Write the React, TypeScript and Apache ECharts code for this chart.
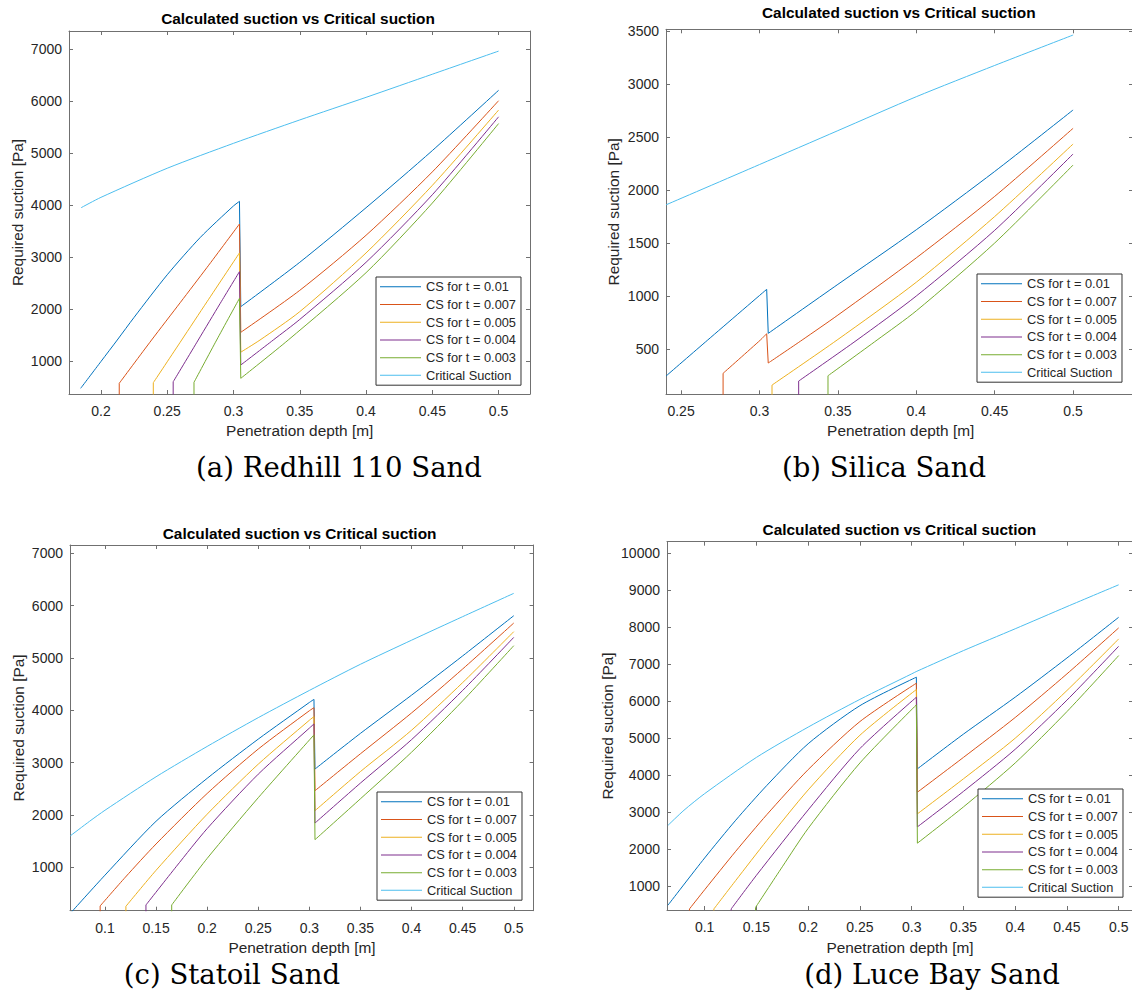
import React, { useEffect, useRef } from 'react';
import * as echarts from 'echarts';

type Pt = [number, number];

// ---------- texts ----------
const LEGEND_NAMES = ['CS for t = 0.01', 'CS for t = 0.007', 'CS for t = 0.005', 'CS for t = 0.004', 'CS for t = 0.003', 'Critical Suction'];
const SERIES_COLORS = ['#0072BD', '#D95319', '#EDB120', '#7E2F8E', '#77AC30', '#4DBEEE'];
const TITLE = 'Calculated suction vs Critical suction';
const X_NAME = 'Penetration depth [m]';
const Y_NAME = 'Required suction [Pa]';
const CAPTIONS = ['(a) Redhill 110 Sand', '(b) Silica Sand', '(c) Statoil Sand', '(d) Luce Bay Sand'];

// ---------- axis ranges / tick steps ----------
const X_RANGES: Pt[] = [[0.1759, 0.5237], [0.2404, 0.5382], [0.0658, 0.5194], [0.0636, 0.5138]];
const Y_RANGES: Pt[] = [[365, 7352], [73, 3516], [171, 7159], [351, 10316]];
const X_STEPS = [0.05, 0.05, 0.05, 0.05];
const Y_STEPS = [1000, 500, 1000, 1000];

// ---------- (a) Redhill 110 Sand ----------
const redhill_t010: Pt[] = [[0.1847, 474], [0.2, 990], [0.2123, 1404], [0.225, 1840], [0.25, 2660], [0.275, 3380], [0.3, 3985], [0.3045, 4073], [0.3055, 2046], [0.35, 2900], [0.4, 3950], [0.45, 5050], [0.5, 6210]];
const redhill_t007: Pt[] = [[0.2138, 0], [0.2138, 571], [0.2382, 1404], [0.26, 2130], [0.28, 2800], [0.3045, 3637], [0.3055, 1552], [0.35, 2360], [0.4, 3420], [0.45, 4640], [0.5, 6010]];
const redhill_t005: Pt[] = [[0.2395, 0], [0.2395, 582], [0.2609, 1404], [0.28, 2140], [0.3045, 3080], [0.3055, 1170], [0.32, 1404], [0.35, 1950], [0.4, 3080], [0.45, 4380], [0.5, 5830]];
const redhill_t004: Pt[] = [[0.2545, 0], [0.2545, 600], [0.2734, 1404], [0.29, 2110], [0.3045, 2720], [0.3055, 923], [0.33, 1404], [0.35, 1800], [0.4, 2900], [0.45, 4200], [0.5, 5700]];
const redhill_t003: Pt[] = [[0.2702, 0], [0.2702, 590], [0.2873, 1404], [0.3045, 2206], [0.3055, 667], [0.3413, 1404], [0.4, 2700], [0.45, 4040], [0.5, 5570]];
const redhill_crit: Pt[] = [[0.185, 3950], [0.2, 4150], [0.25, 4710], [0.3, 5190], [0.35, 5640], [0.4, 6075], [0.45, 6520], [0.5, 6965]];

// ---------- (b) Silica Sand ----------
const silica_t010: Pt[] = [[0.2404, 245], [0.267, 585], [0.3046, 1063], [0.3056, 648], [0.35, 1110], [0.4, 1625], [0.45, 2175], [0.5, 2755]];
const silica_t007: Pt[] = [[0.2768, 0], [0.2768, 271], [0.3006, 585], [0.3046, 645], [0.3056, 368], [0.3272, 585], [0.35, 820], [0.4, 1360], [0.45, 1940], [0.5, 2582]];
const silica_t005: Pt[] = [[0.308, 0], [0.308, 160], [0.3495, 585], [0.4, 1130], [0.45, 1750], [0.5, 2434]];
const silica_t004: Pt[] = [[0.325, 0], [0.325, 198], [0.3622, 585], [0.4, 1000], [0.45, 1620], [0.5, 2340]];
const silica_t003: Pt[] = [[0.3437, 0], [0.3437, 248], [0.375, 585], [0.4, 860], [0.45, 1500], [0.5, 2236]];
const silica_crit: Pt[] = [[0.2404, 1860], [0.3, 2240], [0.35, 2560], [0.4, 2880], [0.45, 3175], [0.5, 3462]];

// ---------- (c) Statoil Sand ----------
const statoil_t010: Pt[] = [[0.067, 140], [0.1, 850], [0.15, 1880], [0.2, 2700], [0.25, 3450], [0.3, 4150], [0.3045, 4210], [0.3055, 2878], [0.35, 3560], [0.4, 4290], [0.45, 5040], [0.5, 5808]];
const statoil_t007: Pt[] = [[0.0953, 0], [0.0953, 262], [0.12, 812], [0.15, 1446], [0.2, 2411], [0.25, 3260], [0.3, 3992], [0.3045, 4050], [0.3055, 2464], [0.35, 3170], [0.4, 3950], [0.45, 4790], [0.5, 5668]];
const statoil_t005: Pt[] = [[0.1205, 0], [0.1205, 255], [0.15, 943], [0.2, 2015], [0.25, 2971], [0.3, 3810], [0.3045, 3880], [0.3055, 2082], [0.35, 2830], [0.4, 3620], [0.45, 4530], [0.5, 5503]];
const statoil_t004: Pt[] = [[0.1401, 0], [0.1401, 280], [0.17, 1020], [0.2, 1740], [0.25, 2780], [0.3, 3660], [0.3045, 3740], [0.3055, 1846], [0.35, 2610], [0.4, 3440], [0.45, 4380], [0.5, 5394]];
const statoil_t003: Pt[] = [[0.1653, 0], [0.1653, 280], [0.2, 1170], [0.25, 2330], [0.3045, 3530], [0.3055, 1528], [0.35, 2310], [0.4, 3200], [0.45, 4180], [0.5, 5235]];
const statoil_crit: Pt[] = [[0.066, 1600], [0.085, 1880], [0.1, 2090], [0.15, 2730], [0.2, 3310], [0.25, 3860], [0.3, 4380], [0.35, 4880], [0.4, 5340], [0.45, 5790], [0.5, 6235]];

// ---------- (d) Luce Bay Sand ----------
const luce_t010: Pt[] = [[0.0645, 480], [0.1, 1760], [0.13, 2780], [0.16, 3720], [0.2, 4850], [0.25, 5880], [0.3045, 6650], [0.3055, 4170], [0.35, 5110], [0.4, 6110], [0.45, 7170], [0.5, 8272]];
const luce_t007: Pt[] = [[0.0853, 0], [0.0853, 380], [0.1, 900], [0.13, 1940], [0.16, 2930], [0.2, 4150], [0.25, 5450], [0.3045, 6487], [0.3055, 3538], [0.35, 4480], [0.4, 5560], [0.45, 6740], [0.5, 7984]];
const luce_t005: Pt[] = [[0.1089, 0], [0.1089, 380], [0.13, 1150], [0.16, 2230], [0.2, 3600], [0.25, 5080], [0.3045, 6316], [0.3055, 2952], [0.35, 3900], [0.4, 5000], [0.45, 6290], [0.5, 7686]];
const luce_t004: Pt[] = [[0.1256, 0], [0.1256, 380], [0.15, 1290], [0.2, 3060], [0.25, 4720], [0.3045, 6108], [0.3055, 2600], [0.35, 3560], [0.4, 4700], [0.45, 6030], [0.5, 7488]];
const luce_t003: Pt[] = [[0.1491, 0], [0.1491, 420], [0.175, 1520], [0.2, 2560], [0.25, 4330], [0.3045, 5901], [0.3055, 2159], [0.35, 3140], [0.4, 4330], [0.45, 5720], [0.5, 7235]];
const luce_crit: Pt[] = [[0.0645, 2640], [0.08, 3050], [0.1, 3500], [0.15, 4480], [0.2, 5300], [0.25, 6050], [0.3, 6740], [0.305, 6810], [0.35, 7370], [0.4, 7960], [0.45, 8560], [0.5, 9150]];

const CHART_DATA: Pt[][][] = [
  [redhill_t010, redhill_t007, redhill_t005, redhill_t004, redhill_t003, redhill_crit],
  [silica_t010, silica_t007, silica_t005, silica_t004, silica_t003, silica_crit],
  [statoil_t010, statoil_t007, statoil_t005, statoil_t004, statoil_t003, statoil_crit],
  [luce_t010, luce_t007, luce_t005, luce_t004, luce_t003, luce_crit],
];

// ---------- layout (pixels) ----------
const GRID_BOXES = [
  { left: 69, top: 31, width: 461, height: 363 },
  { left: 666, top: 29.3, width: 467, height: 365 },
  { left: 70, top: 545, width: 463.6, height: 365.7 },
  { left: 667, top: 541.7, width: 466, height: 368.3 },
];
const TITLE_POS: Pt[] = [[298, 18], [898.8, 12.5], [299.6, 533.8], [899.4, 529.5]];
const XNAME_POS: Pt[] = [[299.7, 430.7], [900.7, 430.7], [302, 947], [900, 947]];
const YNAME_POS: Pt[] = [[17, 212.5], [613.3, 211.8], [18, 728], [607.5, 726]];
const CAPTION_POS: Pt[] = [[339, 467], [884, 467], [232, 974], [932, 974]];
const LEGEND_POS: Pt[] = [[376, 277], [977, 274], [377, 792], [978, 789]];

const FONT = '"Liberation Sans", Arial, Helvetica, sans-serif';
const SERIF = '"DejaVu Serif", Georgia, serif';
const AXIS_COLOR = '#707070';
const TEXT_COLOR = '#262626';
const SMOOTH = 0.25;

function labelFmt(step: number) {
  return (v: number) => {
    const k = Math.round(v / step);
    return Math.abs(v - k * step) < step * 1e-6 ? String(+(k * step).toFixed(4)) : '';
  };
}

// split a curve into: vertical start (straight), rising part (smooth), drop (straight), rising part (smooth)
function splitCurve(data: Pt[]): { pts: Pt[]; smooth: boolean }[] {
  const parts: { pts: Pt[]; smooth: boolean }[] = [];
  let i = 0;
  if (data.length > 1 && data[0][0] === data[1][0]) {
    parts.push({ pts: [data[0], data[1]], smooth: false });
    i = 1;
  }
  let j = -1;
  for (let k = i; k < data.length - 1; k++) {
    if (data[k + 1][1] < data[k][1]) {
      j = k;
      break;
    }
  }
  if (j < 0) {
    parts.push({ pts: data.slice(i), smooth: true });
  } else {
    parts.push({ pts: data.slice(i, j + 1), smooth: true });
    parts.push({ pts: [data[j], data[j + 1]], smooth: false });
    parts.push({ pts: data.slice(j + 1), smooth: true });
  }
  return parts;
}

function buildOption(): any {
  const grid: any[] = [];
  const xAxis: any[] = [];
  const yAxis: any[] = [];
  const series: any[] = [];
  const legend: any[] = [];
  const graphic: any[] = [];

  for (let g = 0; g < 4; g++) {
    grid.push({ ...GRID_BOXES[g], containLabel: false, outerBoundsMode: 'none', show: false });
    const common = (pos: string, showLabel: boolean, isX: boolean) => {
      const range = isX ? X_RANGES[g] : Y_RANGES[g];
      const step = isX ? X_STEPS[g] : Y_STEPS[g];
      return {
        type: 'value',
        gridIndex: g,
        position: pos,
        min: range[0],
        max: range[1],
        minInterval: step,
        maxInterval: step,
        splitNumber: 7,
        scale: true,
        axisLine: { show: true, onZero: false, lineStyle: { color: AXIS_COLOR, width: 1 } },
        axisTick: { show: true, inside: true, length: 4, lineStyle: { color: AXIS_COLOR, width: 1 } },
        axisLabel: {
          show: showLabel,
          margin: isX ? 10 : 7,
          color: TEXT_COLOR,
          fontSize: 14,
          fontFamily: FONT,
          formatter: labelFmt(step),
          hideOverlap: false,
        },
        splitLine: { show: false },
        minorTick: { show: false },
      };
    };
    xAxis.push(common('bottom', true, true));
    xAxis.push(common('top', false, true));
    yAxis.push(common('left', true, false));
    yAxis.push(common('right', false, false));

    CHART_DATA[g].forEach((data, i) => {
      splitCurve(data).forEach((part) => {
        series.push({
          type: 'line',
          name: LEGEND_NAMES[i],
          xAxisIndex: 2 * g,
          yAxisIndex: 2 * g,
          data: part.pts,
          symbol: 'none',
          showSymbol: false,
          smooth: part.smooth && part.pts.length > 2 ? SMOOTH : false,
          clip: true,
          silent: true,
          lineStyle: { width: 1, color: SERIES_COLORS[i] },
          itemStyle: { color: SERIES_COLORS[i] },
          z: 2,
        });
      });
    });

    legend.push({
      orient: 'vertical',
      left: LEGEND_POS[g][0],
      top: LEGEND_POS[g][1],
      data: LEGEND_NAMES.map((n) => ({ name: n, icon: 'rect' })),
      icon: 'rect',
      itemWidth: 41,
      itemHeight: 1,
      itemGap: 0,
      padding: [1, 5, 1, 4],
      backgroundColor: '#ffffff',
      borderColor: '#333333',
      borderWidth: 1,
      borderRadius: 0,
      selectedMode: false,
      itemStyle: { borderWidth: 0 },
      textStyle: { fontSize: 12.8, fontFamily: FONT, color: TEXT_COLOR, lineHeight: 17.7 },
      z: 5,
    });

    const txt = (x: number, y: number, text: string, font: string, fill: string, rotation = 0) => ({
      type: 'text',
      x,
      y,
      rotation,
      silent: true,
      style: {
        text,
        font,
        fill,
        align: 'center',
        verticalAlign: 'middle',
        textAlign: 'center',
        textVerticalAlign: 'middle',
      },
    });
    graphic.push(txt(TITLE_POS[g][0], TITLE_POS[g][1], TITLE, `bold 15.4px ${FONT}`, '#000000'));
    graphic.push(txt(XNAME_POS[g][0], XNAME_POS[g][1], X_NAME, `15.4px ${FONT}`, TEXT_COLOR));
    graphic.push(txt(YNAME_POS[g][0], YNAME_POS[g][1], Y_NAME, `15.4px ${FONT}`, TEXT_COLOR, Math.PI / 2));
    graphic.push(txt(CAPTION_POS[g][0], CAPTION_POS[g][1], CAPTIONS[g], `27.5px ${SERIF}`, '#000000'));
  }

  return {
    animation: false,
    backgroundColor: '#ffffff',
    textStyle: { fontFamily: FONT },
    grid,
    xAxis,
    yAxis,
    series,
    legend,
    graphic,
  };
}

export default function App() {
  const ref = useRef<HTMLDivElement>(null);
  useEffect(() => {
    document.body.style.margin = '0';
    document.body.style.overflow = 'hidden';
    if (!ref.current) return;
    const chart = echarts.init(ref.current, undefined, { renderer: 'svg' });
    chart.setOption(buildOption());
    return () => {
      chart.dispose();
    };
  }, []);
  return (
    <div
      ref={ref}
      style={{ position: 'fixed', left: 0, top: 0, width: 1132, height: 1001, background: '#ffffff' }}
    />
  );
}
